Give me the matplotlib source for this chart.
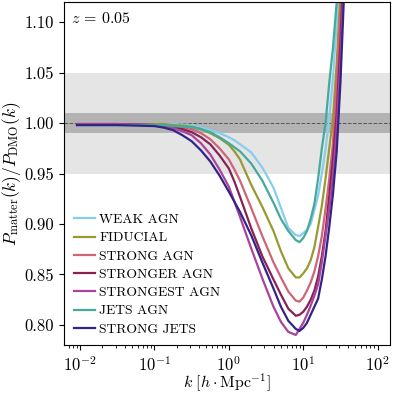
import numpy as np
import matplotlib
matplotlib.use("Agg")
import matplotlib.pyplot as plt

plt.rcParams['font.family'] = 'cmr10'
plt.rcParams['mathtext.fontset'] = 'cm'
plt.rcParams['axes.formatter.use_mathtext'] = True
plt.rcParams['font.size'] = 12

# log10 of k [h/Mpc]
log_k = [-2.04, -1.5, -1.0, -0.875, -0.75, -0.625, -0.5, -0.375, -0.25, -0.125, 0.0, 0.075, 0.15,
         0.3, 0.45, 0.6, 0.7, 0.8, 0.9, 0.95,
         1.0, 1.05, 1.1, 1.15, 1.2, 1.25, 1.3, 1.35, 1.4, 1.45, 1.5, 1.55, 1.6, 1.8, 1.97]

weak_agn = [0.999, 0.999, 0.999, 0.999, 0.999, 0.9985, 0.998, 0.996, 0.993, 0.990, 0.986, 0.983, 0.979,
            0.971, 0.956, 0.936, 0.916, 0.896, 0.889, 0.888,
            0.891, 0.894, 0.900, 0.914, 0.928, 0.950, 0.974, 1.005, 1.045, 1.100, 1.170, 1.250, 1.350, 1.800, 2.400]
fiducial = [0.999, 0.999, 0.999, 0.999, 0.998, 0.9975, 0.9965, 0.994, 0.990, 0.985, 0.9785, 0.972, 0.964,
            0.939, 0.917, 0.893, 0.873, 0.856, 0.847, 0.847,
            0.851, 0.856, 0.864, 0.877, 0.897, 0.918, 0.945, 0.975, 1.005, 1.060, 1.130, 1.220, 1.320, 1.750, 2.300]
strong_agn = [0.999, 0.999, 0.998, 0.998, 0.997, 0.996, 0.994, 0.990, 0.984, 0.975, 0.964, 0.954, 0.943,
              0.916, 0.888, 0.862, 0.847, 0.833, 0.824, 0.823,
              0.827, 0.834, 0.842, 0.853, 0.868, 0.888, 0.915, 0.945, 0.980, 1.040, 1.110, 1.200, 1.300, 1.700, 2.200]
stronger_agn = [0.999, 0.999, 0.998, 0.9975, 0.996, 0.994, 0.991, 0.986, 0.979, 0.968, 0.955, 0.942, 0.927,
                0.896, 0.868, 0.845, 0.830, 0.816, 0.809, 0.810,
                0.813, 0.818, 0.825, 0.834, 0.848, 0.868, 0.893, 0.928, 0.965, 1.010, 1.080, 1.170, 1.280, 1.650, 2.150]
strongest_agn = [0.999, 0.999, 0.998, 0.997, 0.995, 0.992, 0.988, 0.980, 0.969, 0.954, 0.937, 0.922, 0.907,
                 0.876, 0.846, 0.818, 0.803, 0.793, 0.790, 0.796,
                 0.802, 0.810, 0.819, 0.829, 0.840, 0.862, 0.888, 0.915, 0.948, 0.995, 1.060, 1.150, 1.260, 1.650, 2.150]
jets_agn = [0.998, 0.998, 0.998, 0.998, 0.997, 0.9965, 0.996, 0.994, 0.991, 0.986, 0.980, 0.976, 0.972,
            0.960, 0.943, 0.921, 0.905, 0.893, 0.884, 0.882,
            0.886, 0.893, 0.905, 0.920, 0.945, 0.975, 1.000, 1.040, 1.075, 1.120, 1.180, 1.260, 1.350, 1.800, 2.400]
strong_jets = [0.998, 0.998, 0.997, 0.9955, 0.993, 0.988, 0.982, 0.973, 0.962, 0.948, 0.932, 0.922, 0.912,
               0.889, 0.862, 0.836, 0.818, 0.804, 0.796, 0.794,
               0.797, 0.802, 0.810, 0.818, 0.826, 0.845, 0.868, 0.897, 0.930, 0.972, 1.040, 1.130, 1.240, 1.600, 2.100]

labels = ['WEAK AGN', 'FIDUCIAL', 'STRONG AGN', 'STRONGER AGN', 'STRONGEST AGN', 'JETS AGN', 'STRONG JETS']
series = [weak_agn, fiducial, strong_agn, stronger_agn, strongest_agn, jets_agn, strong_jets]
colors = ['#88CCEE', '#999933', '#CC6677', '#882255', '#AA4499', '#44AA99', '#332288']

k = 10 ** np.array(log_k)

fig = plt.figure(figsize=(3.93, 3.93), dpi=100)
ax = fig.add_axes([0.163, 0.122, 0.829, 0.873])

ax.axhspan(0.95, 1.05, color='#e5e5e5', lw=0, zorder=0)
ax.axhspan(0.99, 1.01, color='#b3b3b3', lw=0, zorder=0)
ax.axhline(1.0, color='#555555', lw=0.7, ls='--', zorder=1)

for vals, lab, col in zip(series, labels, colors):
    ax.plot(k, vals, color=col, lw=1.6, label=lab, zorder=2)

ax.set_xscale('log')
ax.set_xlim(0.0061, 146)
ax.set_ylim(0.78, 1.12)
ax.set_yticks([0.80, 0.85, 0.90, 0.95, 1.00, 1.05, 1.10])
ax.set_yticklabels(['0.80', '0.85', '0.90', '0.95', '1.00', '1.05', '1.10'])

ax.set_xlabel(r'$k\ [h \cdot \mathrm{Mpc}^{-1}]$', labelpad=-1, fontsize=11.5)
ax.set_ylabel(r'$P_{\mathrm{matter}}(k)/P_{\mathrm{DMO}}(k)$', labelpad=1, fontsize=12.5)

ax.text(0.022, 0.975, r'$z\,=\,0.05$', transform=ax.transAxes, ha='left', va='top', fontsize=11.5)

ax.legend(loc='lower left', frameon=False, fontsize=9.8, handlelength=1.6, handletextpad=0.3,
          labelspacing=0.42, borderaxespad=0.3)

fig.savefig('out.png', dpi=100)
